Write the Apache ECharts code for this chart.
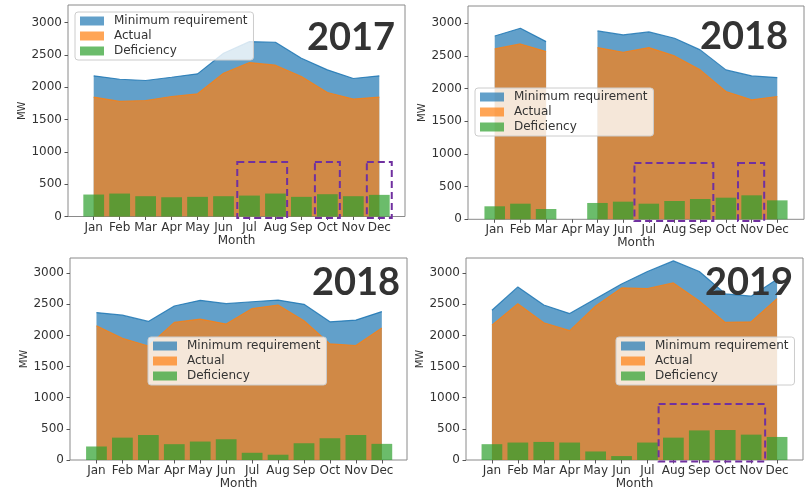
<!DOCTYPE html>
<html>
<head>
<meta charset="utf-8">
<script src="https://cdn.jsdelivr.net/npm/echarts@6/dist/echarts.min.js"></script>
<style>
  html, body { margin: 0; padding: 0; background: #fff; }
  #chart { width: 806px; height: 491px; }
</style>
</head>
<body>
<div id="chart"></div>
<script>
// Month labels shared by all four panels
const MONTHS = ['Jan', 'Feb', 'Mar', 'Apr', 'May', 'Jun', 'Jul', 'Aug', 'Sep', 'Oct', 'Nov', 'Dec'];
const Y_TICKS = [0, 500, 1000, 1500, 2000, 2500, 3000];
const SERIES_NAMES = ['Minimum requirement', 'Actual', 'Deficiency'];

// 2017 (MW)
const minReq2017 = [2177, 2125, 2105, 2156, 2208, 2527, 2707, 2697, 2450, 2270, 2136, 2177];
const actual2017 = [1848, 1781, 1796, 1858, 1899, 2218, 2383, 2342, 2167, 1920, 1817, 1848];
const deficiency2017 = [340, 355, 314, 298, 304, 314, 324, 355, 304, 345, 314, 335];

// 2018, first record (April missing)
const minReq2018a = [2806, 2924, 2720, null, 2883, 2822, 2868, 2771, 2593, 2287, 2195, 2170];
const actual2018a = [2608, 2684, 2567, null, 2628, 2557, 2628, 2501, 2287, 1956, 1829, 1880];
const deficiency2018a = [199, 239, 158, null, 250, 270, 239, 280, 311, 331, 367, 290];

// 2018, second record
const minReq2018b = [2366, 2324, 2224, 2472, 2562, 2509, 2540, 2567, 2498, 2218, 2245, 2382];
const actual2018b = [2155, 1954, 1830, 2208, 2261, 2181, 2430, 2488, 2234, 1864, 1838, 2118];
const deficiency2018b = [217, 359, 401, 254, 296, 333, 116, 85, 269, 349, 401, 259];

// 2019
const minReq2019 = [2403, 2778, 2488, 2350, 2588, 2826, 3026, 3195, 3026, 2667, 2630, 2900];
const actual2019 = [2165, 2509, 2202, 2076, 2472, 2762, 2752, 2842, 2551, 2208, 2218, 2590];
const deficiency2019 = [254, 280, 290, 280, 137, 63, 280, 359, 475, 481, 407, 370];

// Highlighted month spans: [from month index, to month index, upper MW]
const highlight2017 = [[5.53, 7.45, 845], [8.52, 9.48, 845], [10.52, 11.48, 845]];
const highlight2018a = [[5.44, 8.51, 862], [9.47, 10.49, 862]];
const highlight2018b = [];
const highlight2019 = [[6.43, 10.54, 898]];

const panels = [
  { year: '2017', minReq: minReq2017, actual: actual2017, deficiency: deficiency2017, highlight: highlight2017,
    grid: { left: 68, top: 5, width: 337, height: 211.5 }, xMin: -0.99, xMax: 11.99, yMax: 3274,
    legend: { left: 75, top: 12 }, title: { left: 307, top: 19 } },
  { year: '2018', minReq: minReq2018a, actual: actual2018a, deficiency: deficiency2018a, highlight: highlight2018a,
    grid: { left: 468, top: 6, width: 336, height: 213.3 }, xMin: -1.04, xMax: 12.04, yMax: 3265,
    legend: { left: 475, top: 88 }, title: { left: 700, top: 18 } },
  { year: '2018', minReq: minReq2018b, actual: actual2018b, deficiency: deficiency2018b, highlight: highlight2018b,
    grid: { left: 70, top: 258, width: 337, height: 204.7 }, xMin: -1.02, xMax: 11.97, yMax: 3242,
    legend: { left: 148, top: 337 }, title: { left: 312, top: 264 } },
  { year: '2019', minReq: minReq2019, actual: actual2019, deficiency: deficiency2019, highlight: highlight2019,
    grid: { left: 466, top: 258, width: 337, height: 204.7 }, xMin: -1.0, xMax: 12.0, yMax: 3242,
    legend: { left: 616, top: 337 }, title: { left: 705, top: 264 } }
];

const BLUE = 'rgba(31,119,180,0.7)';
const ORANGE = 'rgba(255,127,14,0.7)';
const GREEN = 'rgba(44,160,44,0.7)';
const TEXT = '#333';
const FONT = 'DejaVu Sans';

const toPairs = arr => arr.map((v, i) => [i, v == null ? '-' : v]);

const option = {
  animation: false,
  grid: [], xAxis: [], yAxis: [], legend: [], title: [], series: []
};

panels.forEach((p, k) => {
  option.grid.push(Object.assign({ show: true, borderColor: '#8a8a8a', borderWidth: 1, containLabel: false }, p.grid));
  option.xAxis.push({
    type: 'value', gridIndex: k, min: p.xMin, max: p.xMax,
    name: 'Month', nameLocation: 'middle', nameGap: 18,
    nameTextStyle: { color: TEXT, fontFamily: FONT, fontSize: 12 },
    splitLine: { show: false }, axisLine: { show: false, onZero: false },
    axisTick: { show: true, length: 3.5, lineStyle: { color: '#555' }, customValues: MONTHS.map((m, i) => i) },
    axisLabel: { color: TEXT, fontFamily: FONT, fontSize: 12, margin: 5,
      customValues: MONTHS.map((m, i) => i), formatter: v => MONTHS[Math.round(v)] }
  });
  option.yAxis.push({
    type: 'value', gridIndex: k, min: 0, max: p.yMax,
    name: 'MW', nameLocation: 'middle', nameGap: 40, nameRotate: 90,
    nameTextStyle: { color: TEXT, fontFamily: FONT, fontSize: 10 },
    splitLine: { show: false }, axisLine: { show: false, onZero: false },
    axisTick: { show: true, length: 3.5, lineStyle: { color: '#555' }, customValues: Y_TICKS },
    axisLabel: { color: TEXT, fontFamily: FONT, fontSize: 12, margin: 6, customValues: Y_TICKS,
      formatter: v => String(v) }
  });
  option.legend.push({
    left: p.legend.left, top: p.legend.top, orient: 'vertical', icon: 'rect',
    itemWidth: 24, itemHeight: 9, itemGap: 3, selectedMode: false,
    padding: [3, 6, 3, 5],
    backgroundColor: 'rgba(255,255,255,0.8)', borderColor: '#cccccc', borderWidth: 1, borderRadius: 3,
    textStyle: { color: TEXT, fontFamily: FONT, fontSize: 12, lineHeight: 12, padding: [0, 0, 0, 5] },
    data: [
      { name: SERIES_NAMES[0], itemStyle: { color: BLUE }, lineStyle: { width: 0 } },
      { name: SERIES_NAMES[1], itemStyle: { color: ORANGE }, lineStyle: { width: 0 } },
      { name: SERIES_NAMES[2], itemStyle: { color: GREEN }, lineStyle: { width: 0 } }
    ]
  });
  option.title.push({
    text: p.year, left: p.title.left, top: p.title.top, padding: 0,
    textStyle: { color: '#333', fontFamily: 'Lato', fontWeight: 'bold', fontSize: 38, lineHeight: 38 }
  });

  const barWidth = 0.8 * p.grid.width / (p.xMax - p.xMin);

  option.series.push({
    name: SERIES_NAMES[0], type: 'line', xAxisIndex: k, yAxisIndex: k,
    data: toPairs(p.minReq), symbol: 'none', connectNulls: false,
    lineStyle: { color: 'rgba(31,119,180,0.85)', width: 1.2 },
    itemStyle: { color: BLUE },
    areaStyle: { color: BLUE, opacity: 1 }, z: 2
  });
  option.series.push({
    name: SERIES_NAMES[1], type: 'line', xAxisIndex: k, yAxisIndex: k,
    data: toPairs(p.actual), symbol: 'none', connectNulls: false,
    lineStyle: { color: 'rgba(255,127,14,0.8)', width: 1.2 },
    itemStyle: { color: ORANGE },
    areaStyle: { color: ORANGE, opacity: 1 }, z: 2
  });
  option.series.push({
    name: SERIES_NAMES[2], type: 'bar', xAxisIndex: k, yAxisIndex: k,
    data: toPairs(p.deficiency), barWidth: barWidth,
    itemStyle: { color: GREEN }, z: 3
  });
  if (p.highlight.length) {
    option.series.push({
      type: 'custom', xAxisIndex: k, yAxisIndex: k, z: 5, clip: false, silent: true,
      data: p.highlight,
      renderItem: (params, api) => {
        const a = api.coord([api.value(0), api.value(2)]);
        const b = api.coord([api.value(1), -25]);
        return {
          type: 'rect',
          shape: { x: a[0], y: a[1], width: b[0] - a[0], height: b[1] - a[1] },
          style: { fill: 'none', stroke: '#7030a0', lineWidth: 2, lineDash: [7, 4] }
        };
      }
    });
  }
});

const chart = echarts.init(document.getElementById('chart'), null, { renderer: 'canvas' });
chart.setOption(option);
</script>
</body>
</html>
